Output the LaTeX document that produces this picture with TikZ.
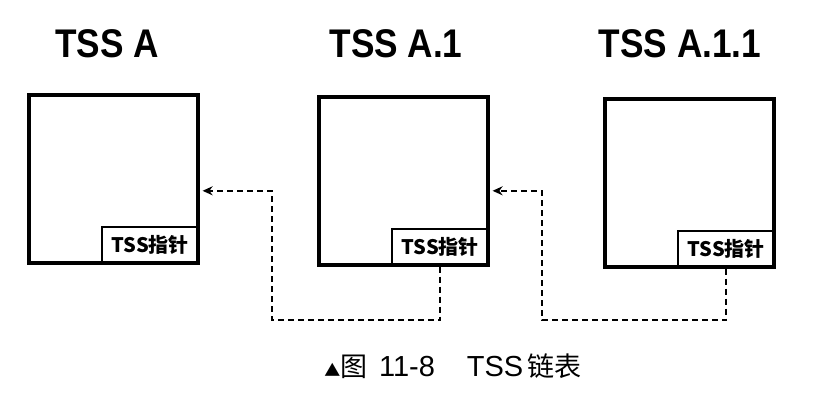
\documentclass[tikz,border=0pt]{standalone}
\usepackage{fontspec}
\setmainfont{Liberation Sans}
\newfontfamily\cjk{Noto Sans CJK SC}
\usetikzlibrary{arrows.meta,positioning,calc}

\begin{document}
\begin{tikzpicture}[
    x=1pt, y=-1pt,
    % task state segments and their link fields
    tss/.style={
        rectangle,
        draw=black,
        line width=3.6pt,
        minimum width=169pt,
        minimum height=168pt,
        inner sep=0pt,
        anchor=north west
    },
    ptr/.style={
        rectangle,
        draw=black,
        line width=2pt,
        minimum width=97pt,
        minimum height=37pt,
        inner sep=0pt,
        anchor=south east,
        font=\cjk\bfseries\fontsize{20}{20}\selectfont
    },
    title/.style={
        anchor=base,
        xscale=0.88,
        font=\bfseries\fontsize{40}{40}\selectfont
    },
    link/.style={
        line width=2.4pt,
        dash pattern=on 6pt off 4pt,
        -{Stealth[length=10pt, width=9pt]},
        shorten >=3pt
    }
]

% page frame
\useasboundingbox (0,0) rectangle (820,400);

% Segments
\node[tss] (tssA) at (27,93) {};
\node[tss] (tssA1) at (317,95) {};
\node[tss] (tssA11) at (603,97) {};

\node[ptr] (ptrA) at (tssA.south east) {TSS指针};
\node[ptr] (ptrA1) at (tssA1.south east) {TSS指针};
\node[ptr] (ptrA11) at (tssA11.south east) {TSS指针};

% Titles
\node[title] (titleA) at (107,57) {TSS A};
\node[title] (titleA1) at (396,57) {TSS A.1};
\node[title] (titleA11) at (680,57) {TSS A.1.1};

% Back links
\coordinate (turnA) at (272,320);
\coordinate (turnA1) at (542,320);
\draw[link] (ptrA1.south) |- (turnA) |- ([yshift=-12pt]tssA.east);
\draw[link] (ptrA11.south) |- (turnA1) |- ([yshift=-10pt]tssA1.east);

% Caption
\node[font=\fontsize{29}{29}\selectfont, anchor=base] (caption) at (453,376)
    {{\cjk\fontsize{16}{16}\selectfont ▲}{\cjk\fontsize{27}{27}\selectfont 图}\hspace{0.4em}11-8\hspace{1.1em}TSS\hspace{0.15em}{\cjk\fontsize{27}{27}\selectfont 链表}};

\end{tikzpicture}
\end{document}
